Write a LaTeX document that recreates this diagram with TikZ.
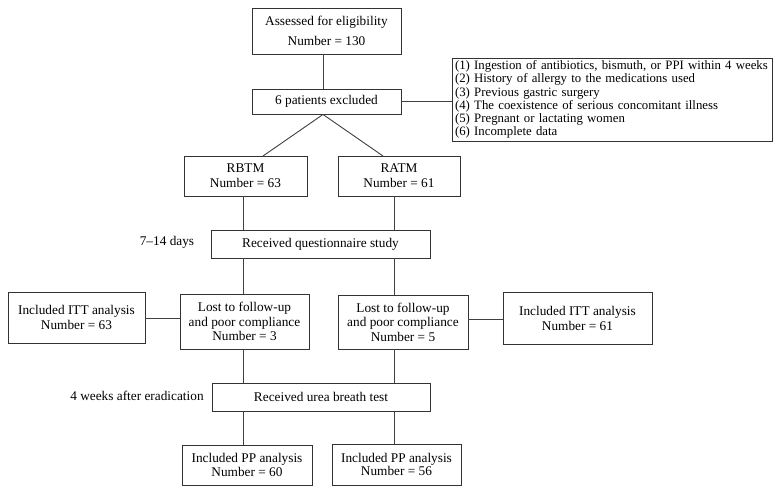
\documentclass[tikz,border=0pt]{standalone}
\usepackage{fontspec}
\setmainfont{Liberation Serif}
\begin{document}
\begin{tikzpicture}[x=1pt,y=-1pt,
  box/.style={draw=black!80,line width=0.9pt,fill=white,inner sep=2pt,align=center,font=\fontsize{13.3}{15}\selectfont},
  lbl/.style={inner sep=0pt,font=\fontsize{13.3}{15}\selectfont},
  conn/.style={draw=black!75,line width=0.9pt}]
\useasboundingbox[fill=white] (0,0) rectangle (780,493);
\coordinate (colL) at (243,0);
\coordinate (colR) at (394,0);
\node[box,minimum width=149pt,minimum height=46pt,font=\fontsize{13.3}{19.5}\selectfont] (assess) at (326.5,31) {Assessed for eligibility\\Number = 130};
\node[box,minimum width=149pt,minimum height=25pt] (excl) at (326.5,101.5) {6 patients excluded};
\node[box,minimum width=320pt,minimum height=83pt,align=left,font=\fontsize{12.8}{13.2}\selectfont,text width=314pt,inner sep=1pt] (crit) at (612,99.5) {(1) Ingestion of antibiotics, bismuth, or PPI within 4 weeks\\(2) History of allergy to the medications used\\(3) Previous gastric surgery\\(4) The coexistence of serious concomitant illness\\(5) Pregnant or lactating women\\(6) Incomplete data};
\node[box,minimum width=123pt,minimum height=40pt] (rbtm) at (245.5,176) {RBTM\\Number = 63};
\node[box,minimum width=122pt,minimum height=40pt] (ratm) at (399,176) {RATM\\Number = 61};
\node[box,minimum width=219pt,minimum height=28pt] (quest) at (320.5,244) {Received questionnaire study};
\node[box,minimum width=137pt,minimum height=51pt] (itta) at (76.5,317.5) {Included ITT analysis\\Number = 63};
\node[box,minimum width=129pt,minimum height=55pt,font=\fontsize{13.3}{14.5}\selectfont] (losta) at (244.5,321.5) {Lost to follow-up\\and poor compliance\\Number = 3};
\node[box,minimum width=130pt,minimum height=54pt,font=\fontsize{13.3}{14.5}\selectfont] (lostb) at (403,322) {Lost to follow-up\\and poor compliance\\Number = 5};
\node[box,minimum width=149pt,minimum height=52pt] (ittb) at (577.5,318) {Included ITT analysis\\Number = 61};
\node[box,minimum width=218pt,minimum height=28pt] (urea) at (321,397) {Received urea breath test};
\node[box,minimum width=130pt,minimum height=40pt,font=\fontsize{13.3}{13.5}\selectfont] (ppa) at (247,465) {Included PP analysis\\Number = 60};
\node[box,minimum width=129pt,minimum height=41pt,font=\fontsize{13.3}{13.5}\selectfont] (ppb) at (396.5,464.5) {Included PP analysis\\Number = 56};
\node[lbl] (days) at (167,242) {7--14 days};
\node[lbl] (weeks) at (137,396) {4 weeks after eradication};
\coordinate (ra) at (263,156);
\coordinate (rb) at (383,156);
\draw[conn] (assess.south -| 323,0) -- (excl.north -| 323,0);
\draw[conn] (excl.east) -- (excl.east -| crit.west);
\draw[conn] (ra) -- (excl.south -| 323,0) -- (rb);
\draw[conn] (rbtm.south -| colL) -- (quest.north -| colL);
\draw[conn] (ratm.south -| colR) -- (quest.north -| colR);
\draw[conn] (quest.south -| colL) -- (losta.north -| colL);
\draw[conn] (quest.south -| colR) -- (lostb.north -| colR);
\draw[conn] (losta.south -| colL) -- (urea.north -| colL);
\draw[conn] (lostb.south -| colR) -- (urea.north -| colR);
\draw[conn] (urea.south -| colL) -- (ppa.north -| colL);
\draw[conn] (urea.south -| colR) -- (ppb.north -| colR);
\draw[conn] (itta.east |- 0,318) -- (losta.west |- 0,318);
\draw[conn] (lostb.east |- 0,319) -- (ittb.west |- 0,319);
\end{tikzpicture}
\end{document}
